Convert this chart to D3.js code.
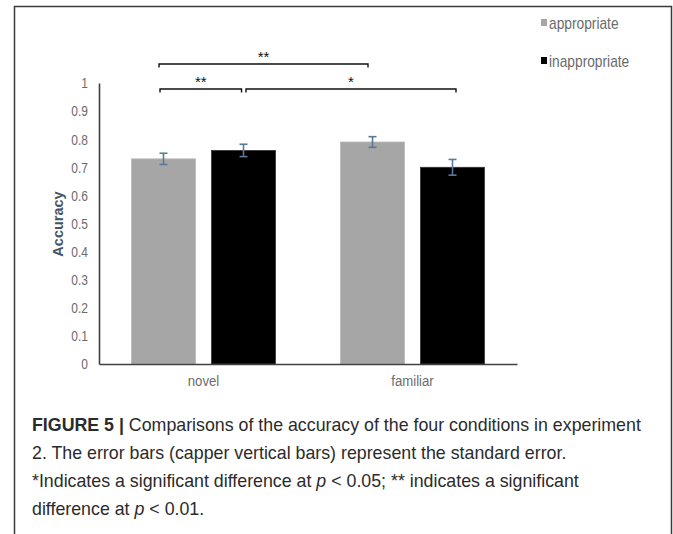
<!DOCTYPE html>
<html>
<head>
<meta charset="utf-8">
<script src="https://cdn.jsdelivr.net/npm/d3@7/dist/d3.min.js"></script>
<style>
  html, body { margin: 0; padding: 0; background: #fff; }
  svg { display: block; }
</style>
</head>
<body>
<svg id="fig" width="673" height="534"></svg>
<script>
// Accuracy per condition (experiment 2)
const categories = ["novel", "familiar"];
const seriesNames = ["appropriate", "inappropriate"];
const appropriateValues = [0.73, 0.79];
const inappropriateValues = [0.76, 0.70];
const appropriateErrors = [0.02, 0.019];
const inappropriateErrors = [0.022, 0.028];
const yTicks = [0, 0.1, 0.2, 0.3, 0.4, 0.5, 0.6, 0.7, 0.8, 0.9, 1];
const yTickLabels = ["0", "0.1", "0.2", "0.3", "0.4", "0.5", "0.6", "0.7", "0.8", "0.9", "1"];
// Significance brackets between two bars
const brackets = [
  { from: ["novel", "appropriate"], to: ["familiar", "appropriate"], label: "**", level: 1 },
  { from: ["novel", "appropriate"], to: ["novel", "inappropriate"], label: "**", level: 0 },
  { from: ["novel", "inappropriate"], to: ["familiar", "inappropriate"], label: "*", level: 0 }
];

const seriesValues = { appropriate: appropriateValues, inappropriate: inappropriateValues };
const seriesErrors = { appropriate: appropriateErrors, inappropriate: inappropriateErrors };
const colors = { appropriate: "#a6a6a6", inappropriate: "#000000" };

const svg = d3.select("#fig");
const sans = "'Liberation Sans', Arial, sans-serif";
// Office-style narrow labels: regular sans squeezed horizontally
const narrowX = 0.8;

// Figure frame
svg.append("path")
  .attr("d", "M14.5,540 V6.5 H671.5 V540")
  .attr("fill", "none").attr("stroke", "#3a3a3a").attr("stroke-width", 1.5);

const x0 = d3.scaleBand().domain(categories).range([99, 517]);
const x1 = d3.scaleBand().domain(seriesNames)
  .range([32.5, x0.bandwidth() - 32.5]).paddingInner(0.2).paddingOuter(0);
const y = d3.scaleLinear().domain([0, 1]).range([364, 83]);

// Bars
const rows = [];
categories.forEach((c, i) => seriesNames.forEach(s => rows.push({
  cat: c, series: s, value: seriesValues[s][i], err: seriesErrors[s][i]
})));
const g = svg.append("g");
g.selectAll("rect.bar").data(rows).join("rect")
  .attr("class", "bar")
  .attr("x", d => x0(d.cat) + x1(d.series))
  .attr("y", d => y(d.value))
  .attr("width", x1.bandwidth())
  .attr("height", d => y(0) - y(d.value))
  .attr("fill", d => colors[d.series])
  .attr("stroke", d => d.series === "appropriate" ? "#b8b8b8" : "#333")
  .attr("stroke-width", 0.8);

// Error bars
const cx = d => x0(d.cat) + x1(d.series) + x1.bandwidth() / 2;
const eb = g.selectAll("g.err").data(rows).join("g").attr("class", "err")
  .attr("stroke", "#5d7898").attr("stroke-width", 1.6);
eb.append("line").attr("x1", cx).attr("x2", cx)
  .attr("y1", d => y(d.value + d.err)).attr("y2", d => y(d.value - d.err));
eb.append("line").attr("x1", d => cx(d) - 4).attr("x2", d => cx(d) + 4)
  .attr("y1", d => y(d.value + d.err)).attr("y2", d => y(d.value + d.err));
eb.append("line").attr("x1", d => cx(d) - 4).attr("x2", d => cx(d) + 4)
  .attr("y1", d => y(d.value - d.err)).attr("y2", d => y(d.value - d.err));

// Y axis (line only, no ticks)
const yAxis = d3.axisLeft(y).tickValues(yTicks)
  .tickFormat((d, i) => yTickLabels[i]).tickSize(0).tickPadding(0);
const ya = svg.append("g").attr("transform", "translate(99,0)").call(yAxis);
ya.select(".domain").attr("stroke", "#404040").attr("stroke-width", 1.6);
ya.selectAll("text").attr("font-family", sans).attr("font-size", 15)
  .attr("fill", "#6b6b6b")
  .attr("x", -11 / narrowX)
  .attr("transform", `scale(${narrowX},1)`);

// X axis
const xAxis = d3.axisBottom(x0).tickSize(0).tickPadding(11);
const xa = svg.append("g").attr("transform", "translate(0,364)").call(xAxis);
xa.select(".domain").attr("stroke", "#404040").attr("stroke-width", 1.6);
xa.selectAll("text").attr("font-family", sans).attr("font-size", 15.5)
  .attr("fill", "#6b6b6b")
  .attr("transform", "scale(0.85,1)");

// Y axis title
svg.append("text")
  .attr("transform", "translate(63,224) rotate(-90)")
  .attr("text-anchor", "middle")
  .attr("font-family", sans)
  .attr("font-weight", "bold").attr("font-size", 14.5)
  .attr("fill", "#44546a").text("Accuracy");

// Legend
seriesNames.forEach((s, i) => {
  const ly = 23 + i * 38;
  svg.append("rect").attr("x", 541).attr("y", ly - 4).attr("width", 6).attr("height", 7)
    .attr("fill", colors[s]);
  svg.append("text")
    .attr("transform", `translate(549,${ly}) scale(0.86,1)`)
    .attr("dy", "0.35em")
    .attr("font-family", sans).attr("font-size", 16).attr("fill", "#6b6b6b")
    .text(s);
});

// Significance brackets
const levelY = [89, 64];
const bracketNudge = [[-4.5, -4.5], [-3.5, -2], [2.5, 3.5]];
const bx = ([c, s]) => x0(c) + x1(s) + x1.bandwidth() / 2;
const bg = svg.append("g");
brackets.forEach((b, i) => {
  const yy = levelY[b.level];
  const xa_ = bx(b.from) + bracketNudge[i][0], xb_ = bx(b.to) + bracketNudge[i][1];
  bg.append("path")
    .attr("d", `M${xa_},${yy + 3.5} V${yy} H${xb_} V${yy + 3.5}`)
    .attr("fill", "none").attr("stroke", "#111").attr("stroke-width", 1.4);
  bg.append("text").attr("x", (xa_ + xb_) / 2).attr("y", yy - 2)
    .attr("text-anchor", "middle").attr("font-family", sans)
    .attr("font-size", 15).attr("fill", "#111").text(b.label);
});

// Caption
const cap = svg.append("text").attr("font-family", sans)
  .attr("font-size", 17.8).attr("fill", "#2b2b2b");
const capLines = [
  [["FIGURE 5 |", "bold"], [" Comparisons of the accuracy of the four conditions in experiment", ""]],
  [["2. The error bars (capper vertical bars) represent the standard error.", ""]],
  [["*Indicates a significant difference at ", ""], ["p", "italic"], [" < 0.05; ** indicates a significant", ""]],
  [["difference at ", ""], ["p", "italic"], [" < 0.01.", ""]]
];
const capY = [431, 459, 487, 515];
capLines.forEach((parts, i) => {
  parts.forEach(([t, st], j) => {
    const sp = cap.append("tspan").text(t);
    if (j === 0) sp.attr("x", 32).attr("y", capY[i]);
    if (st === "bold") sp.attr("font-weight", "bold");
    if (st === "italic") sp.attr("font-style", "italic");
  });
});
</script>
</body>
</html>
